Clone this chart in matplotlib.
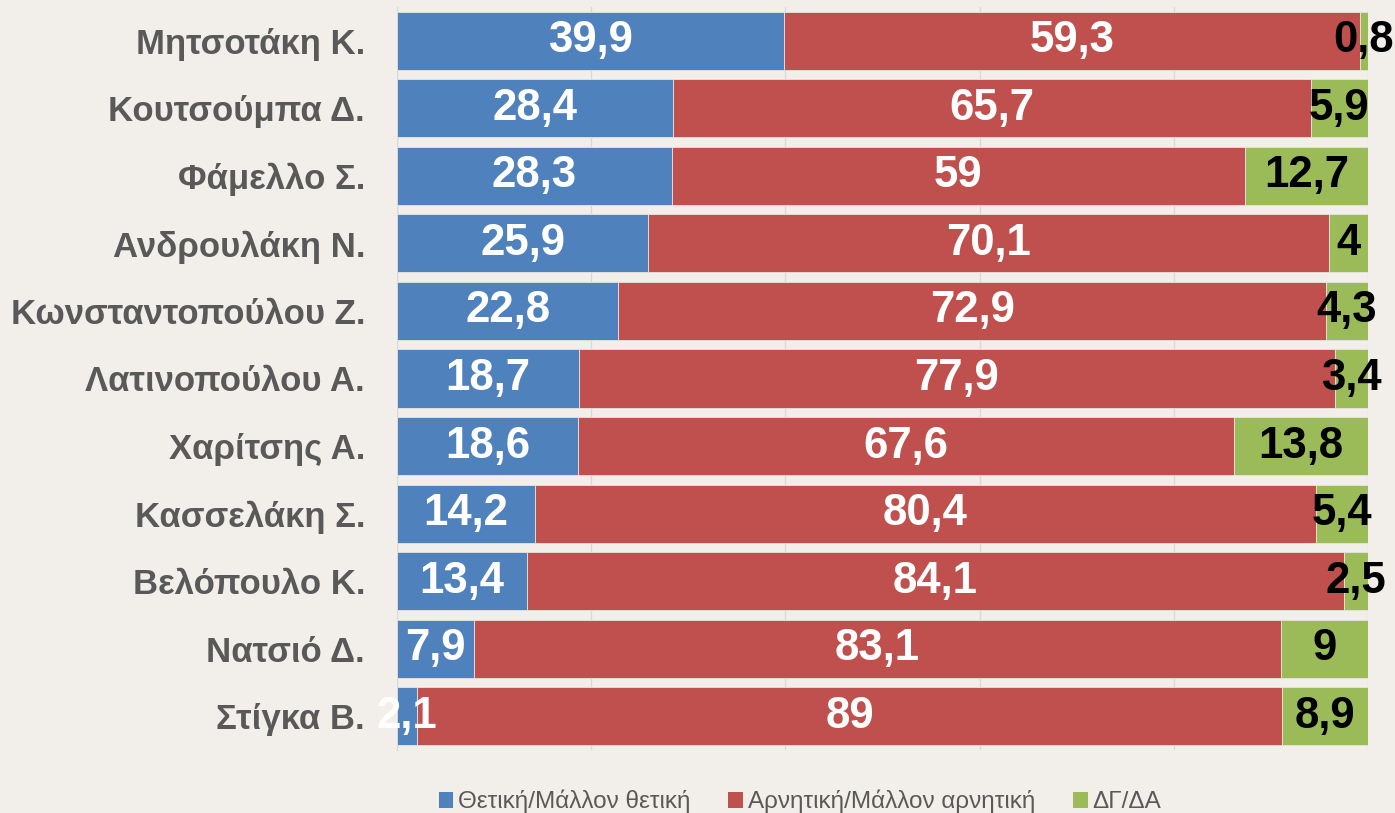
import numpy as np
import matplotlib.pyplot as plt
import matplotlib
from matplotlib.patches import Patch

matplotlib.rcParams['font.family'] = ['Liberation Sans', 'DejaVu Sans']

names = ["Μητσοτάκη Κ.", "Κουτσούμπα Δ.", "Φάμελλο Σ.", "Ανδρουλάκη Ν.",
         "Κωνσταντοπούλου Ζ.", "Λατινοπούλου Α.", "Χαρίτσης Α.", "Κασσελάκη Σ.",
         "Βελόπουλο Κ.", "Νατσιό Δ.", "Στίγκα Β."]
positive = [39.9, 28.4, 28.3, 25.9, 22.8, 18.7, 18.6, 14.2, 13.4, 7.9, 2.1]
negative = [59.3, 65.7, 59, 70.1, 72.9, 77.9, 67.6, 80.4, 84.1, 83.1, 89]
dkna = [0.8, 5.9, 12.7, 4, 4.3, 3.4, 13.8, 5.4, 2.5, 9, 8.9]
series_names = ["Θετική/Μάλλον θετική", "Αρνητική/Μάλλον αρνητική", "ΔΓ/ΔΑ"]
colors = ["#4f81bd", "#c0504d", "#9bbb59"]
text_colors = ["white", "white", "black"]

bg = "#f2efeb"
fig = plt.figure(figsize=(13.95, 8.13), dpi=100, facecolor=bg)
ax = fig.add_axes([0.2846, 0.0775, 0.696, 0.9139])
ax.set_facecolor(bg)

y = np.arange(len(names))
left = np.zeros(len(names))
for vals, col, tcol in zip([positive, negative, dkna], colors, text_colors):
    vals = np.array(vals, dtype=float)
    ax.barh(y, vals, left=left, height=0.86, color=col,
            edgecolor="#e8e4e0", linewidth=0.6, zorder=3)
    for yi, l, v in zip(y, left, vals):
        ax.text(l + v / 2, yi, f"{v:g}".replace('.', ','), ha='center', va='center',
                color=tcol, fontsize=31.5, fontweight='bold', zorder=4)
    left += vals

ax.set_xlim(0, 100)
ax.set_ylim(len(names) - 0.5, -0.5)
ax.set_xticks([0, 20, 40, 60, 80, 100])
ax.xaxis.grid(True, color="#d9d9d9", linewidth=1, zorder=0)
ax.tick_params(axis='x', length=0, labelbottom=False)
ax.set_yticks(y)
ax.set_yticklabels(names, fontsize=25, fontweight='bold', color="#595959")
ax.tick_params(axis='y', length=0, pad=23)
for s in ['top', 'right', 'bottom']:
    ax.spines[s].set_visible(False)
ax.spines['left'].set_color("#d9d9d9")

handles = [Patch(facecolor=c, edgecolor='none') for c in colors]
fig.legend(handles, series_names, loc='center', bbox_to_anchor=(0.5735, 0.014),
           ncol=3, frameon=False, fontsize=17.5, labelcolor="#595959",
           handlelength=0.6, handleheight=0.6, handletextpad=0.2, columnspacing=1.55)

fig.savefig("out.png", dpi=100, facecolor=bg)
